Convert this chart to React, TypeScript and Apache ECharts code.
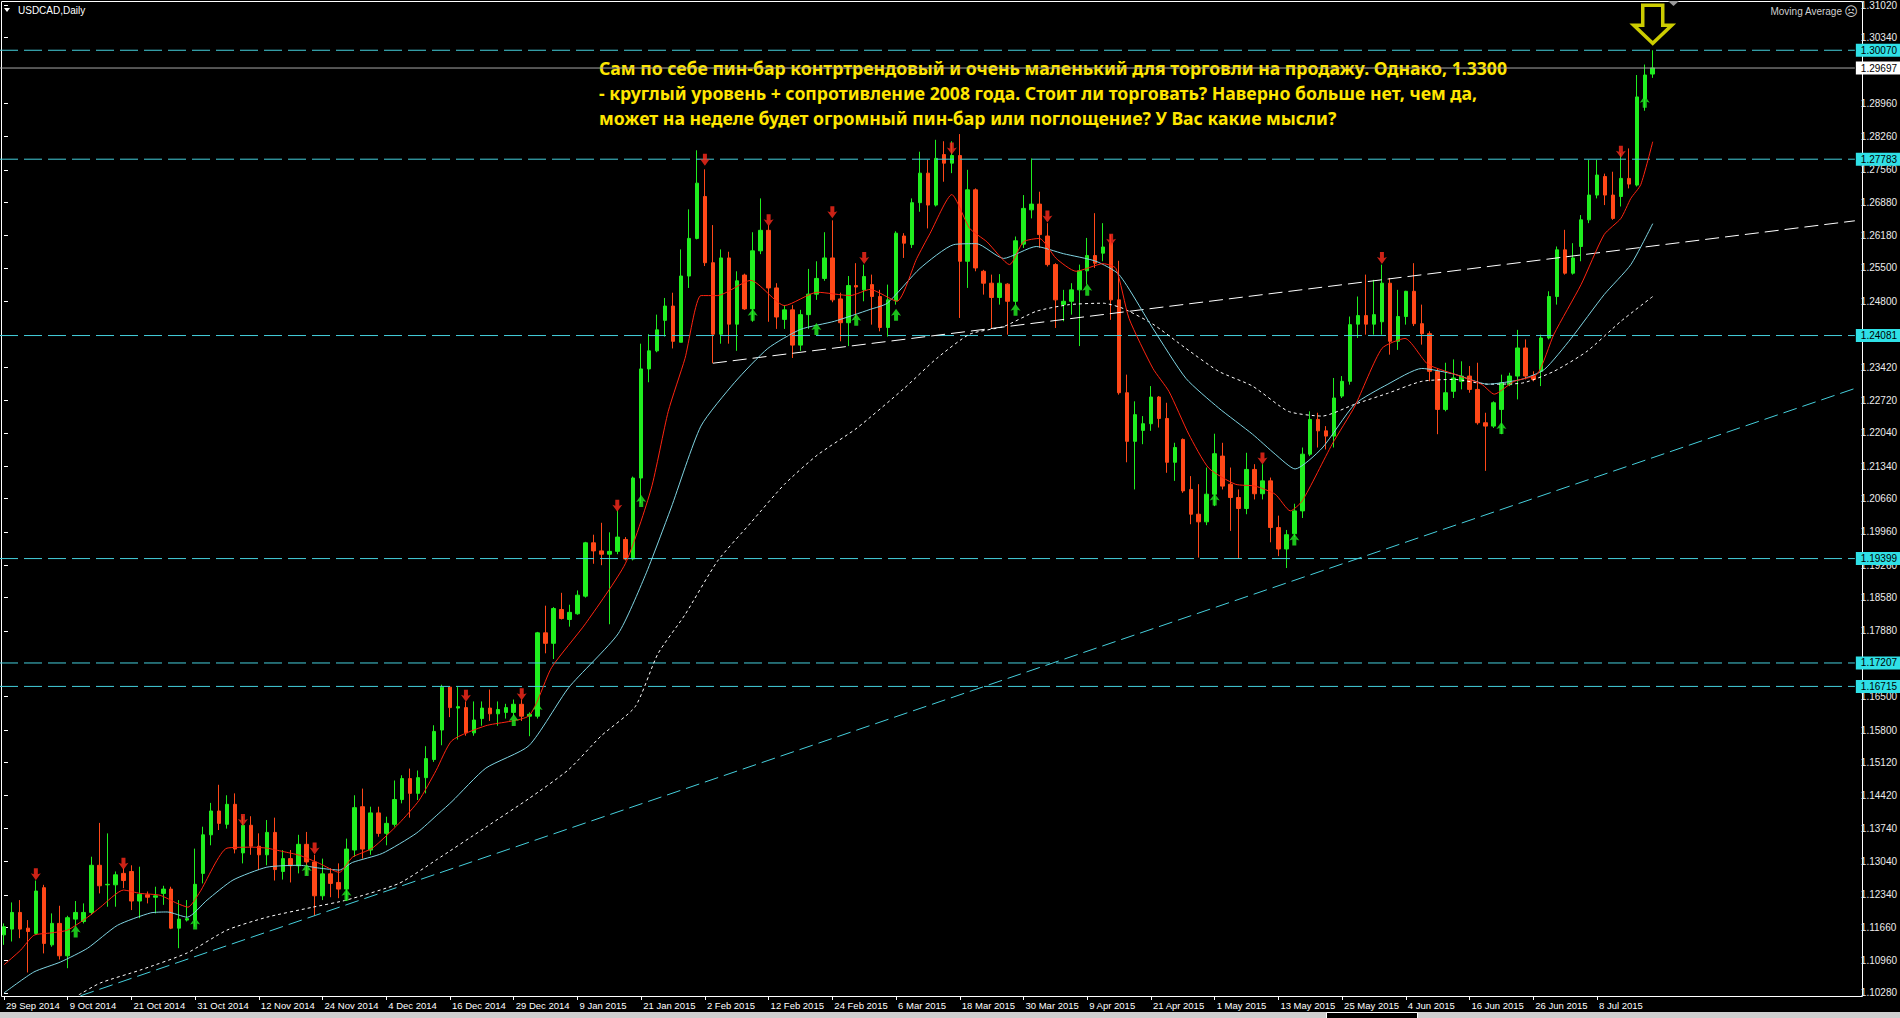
import React, { useEffect, useRef } from 'react';
import * as echarts from 'echarts';

const SYMBOL_TITLE = 'USDCAD,Daily';
const INDICATOR_TITLE = 'Moving Average';
const NOTE_LINES = [
  'Сам по себе пин-бар контртрендовый и очень маленький для торговли на продажу. Однако, 1.3300',
  '- круглый уровень + сопротивление 2008 года. Стоит ли торговать? Наверно больше нет, чем да,',
  'может на неделе будет огромный пин-бар или поглощение? У Вас какие мысли?',
];

const FIRST_DAY = '2014-09-29';
const HOLIDAYS = ['2014-12-25', '2015-01-01'];
const MONTHS = ['Jan', 'Feb', 'Mar', 'Apr', 'May', 'Jun', 'Jul', 'Aug', 'Sep', 'Oct', 'Nov', 'Dec'];

// [open, high, low, close]
const CANDLES_OCT_NOV = [
  [1.1150, 1.1174, 1.1129, 1.1167], [1.1162, 1.1218, 1.1136, 1.1197], [1.1197, 1.1223, 1.1143, 1.1162],
  [1.1164, 1.1181, 1.1071, 1.1157], [1.1153, 1.1264, 1.1150, 1.1242], [1.1249, 1.1255, 1.1111, 1.1132],
  [1.1129, 1.1195, 1.1125, 1.1174], [1.1174, 1.1211, 1.1098, 1.1106], [1.1106, 1.1190, 1.1080, 1.1186],
  [1.1183, 1.1221, 1.1167, 1.1197], [1.1178, 1.1216, 1.1174, 1.1197], [1.1197, 1.1314, 1.1192, 1.1296],
  [1.1296, 1.1385, 1.1237, 1.1253], [1.1255, 1.1363, 1.1209, 1.1256], [1.1255, 1.1283, 1.1209, 1.1276],
  [1.1279, 1.1290, 1.1248, 1.1264], [1.1283, 1.1296, 1.1202, 1.1221], [1.1221, 1.1293, 1.1185, 1.1235],
  [1.1234, 1.1241, 1.1216, 1.1229], [1.1229, 1.1251, 1.1195, 1.1232], [1.1237, 1.1253, 1.1213, 1.1246],
  [1.1246, 1.1251, 1.1162, 1.1164], [1.1164, 1.1223, 1.1122, 1.1183], [1.1181, 1.1223, 1.1178, 1.1184],
  [1.1181, 1.1331, 1.1167, 1.1256], [1.1279, 1.1377, 1.1258, 1.1360], [1.1360, 1.1427, 1.1338, 1.1410],
  [1.1410, 1.1465, 1.1370, 1.1384], [1.1382, 1.1443, 1.1373, 1.1424], [1.1424, 1.1447, 1.1321, 1.1330],
  [1.1322, 1.1399, 1.1300, 1.1380], [1.1380, 1.1399, 1.1318, 1.1336], [1.1336, 1.1363, 1.1286, 1.1318],
  [1.1318, 1.1391, 1.1296, 1.1365], [1.1365, 1.1396, 1.1264, 1.1287], [1.1283, 1.1328, 1.1266, 1.1310],
  [1.1310, 1.1328, 1.1260, 1.1295], [1.1295, 1.1360, 1.1279, 1.1340], [1.1340, 1.1366, 1.1276, 1.1303],
  [1.1303, 1.1318, 1.1190, 1.1232], [1.1232, 1.1310, 1.1223, 1.1278], [1.1278, 1.1290, 1.1229, 1.1258],
  [1.1260, 1.1300, 1.1227, 1.1246], [1.1246, 1.1352, 1.1221, 1.1330], [1.1328, 1.1443, 1.1314, 1.1417],
  [1.1419, 1.1457, 1.1310, 1.1330], [1.1328, 1.1419, 1.1318, 1.1406], [1.1406, 1.1419, 1.1356, 1.1363],
];
const CANDLES_DEC_JAN = [
  [1.1363, 1.1398, 1.1338, 1.1384], [1.1382, 1.1474, 1.1377, 1.1434], [1.1434, 1.1485, 1.1426, 1.1478],
  [1.1478, 1.1499, 1.1396, 1.1447], [1.1447, 1.1495, 1.1433, 1.1480], [1.1480, 1.1546, 1.1447, 1.1520],
  [1.1518, 1.1590, 1.1513, 1.1577], [1.1580, 1.1675, 1.1548, 1.1670], [1.1670, 1.1672, 1.1607, 1.1627],
  [1.1626, 1.1670, 1.1560, 1.1629], [1.1627, 1.1640, 1.1568, 1.1574], [1.1574, 1.1640, 1.1568, 1.1601],
  [1.1604, 1.1640, 1.1589, 1.1626], [1.1626, 1.1665, 1.1599, 1.1614], [1.1614, 1.1640, 1.1589, 1.1623],
  [1.1617, 1.1635, 1.1604, 1.1627], [1.1617, 1.1644, 1.1609, 1.1634], [1.1634, 1.1644, 1.1599, 1.1609],
  [1.1609, 1.1617, 1.1567, 1.1613], [1.1609, 1.1786, 1.1604, 1.1784], [1.1784, 1.1841, 1.1741, 1.1762],
  [1.1762, 1.1838, 1.1729, 1.1835], [1.1833, 1.1868, 1.1812, 1.1814], [1.1812, 1.1843, 1.1797, 1.1827],
  [1.1824, 1.1873, 1.1822, 1.1863], [1.1861, 1.1975, 1.1858, 1.1973], [1.1973, 1.1990, 1.1929, 1.1956],
  [1.1956, 1.2015, 1.1926, 1.1949], [1.1949, 1.1995, 1.1802, 1.1955], [1.1955, 1.2041, 1.1949, 1.1985],
  [1.1980, 1.1985, 1.1936, 1.1939], [1.1939, 1.2112, 1.1936, 1.2109], [1.2109, 1.2391, 1.2056, 1.2338],
  [1.2338, 1.2411, 1.2310, 1.2376], [1.2376, 1.2452, 1.2373, 1.2420], [1.2440, 1.2487, 1.2406, 1.2470],
  [1.2470, 1.2498, 1.2381, 1.2396], [1.2394, 1.2589, 1.2394, 1.2533], [1.2533, 1.2673, 1.2508, 1.2612],
  [1.2612, 1.2797, 1.2610, 1.2728],
];
const CANDLES_FEB_MAR = [
  [1.2700, 1.2757, 1.2554, 1.2561], [1.2561, 1.2640, 1.2350, 1.2411], [1.2411, 1.2589, 1.2391, 1.2571],
  [1.2571, 1.2584, 1.2391, 1.2432], [1.2432, 1.2543, 1.2376, 1.2523], [1.2535, 1.2538, 1.2462, 1.2464],
  [1.2464, 1.2625, 1.2437, 1.2586], [1.2586, 1.2696, 1.2579, 1.2629], [1.2629, 1.2640, 1.2437, 1.2508],
  [1.2508, 1.2518, 1.2422, 1.2447], [1.2442, 1.2472, 1.2422, 1.2462], [1.2462, 1.2472, 1.2361, 1.2388],
  [1.2388, 1.2462, 1.2376, 1.2452], [1.2452, 1.2548, 1.2422, 1.2495], [1.2495, 1.2564, 1.2483, 1.2528],
  [1.2528, 1.2625, 1.2523, 1.2571], [1.2571, 1.2650, 1.2478, 1.2483], [1.2485, 1.2498, 1.2396, 1.2435],
  [1.2435, 1.2533, 1.2386, 1.2513], [1.2513, 1.2560, 1.2445, 1.2510], [1.2504, 1.2557, 1.2480, 1.2532],
  [1.2515, 1.2536, 1.2431, 1.2490], [1.2490, 1.2504, 1.2417, 1.2425], [1.2425, 1.2515, 1.2406, 1.2483],
  [1.2481, 1.2627, 1.2473, 1.2623], [1.2617, 1.2623, 1.2571, 1.2602], [1.2599, 1.2696, 1.2592, 1.2687],
  [1.2687, 1.2794, 1.2668, 1.2749], [1.2749, 1.2777, 1.2633, 1.2682], [1.2682, 1.2819, 1.2679, 1.2780],
  [1.2788, 1.2816, 1.2731, 1.2770], [1.2770, 1.2816, 1.2749, 1.2786], [1.2786, 1.2831, 1.2445, 1.2564],
  [1.2564, 1.2756, 1.2508, 1.2714], [1.2714, 1.2717, 1.2543, 1.2550], [1.2543, 1.2546, 1.2494, 1.2518],
  [1.2518, 1.2536, 1.2424, 1.2488], [1.2488, 1.2537, 1.2473, 1.2518], [1.2516, 1.2518, 1.2410, 1.2480],
  [1.2480, 1.2616, 1.2473, 1.2607],
];
const CANDLES_APR_MAY = [
  [1.2600, 1.2703, 1.2592, 1.2675], [1.2672, 1.2780, 1.2654, 1.2684], [1.2684, 1.2710, 1.2592, 1.2620],
  [1.2617, 1.2644, 1.2553, 1.2557], [1.2557, 1.2560, 1.2424, 1.2483], [1.2473, 1.2504, 1.2438, 1.2480],
  [1.2480, 1.2518, 1.2452, 1.2504], [1.2504, 1.2557, 1.2386, 1.2544], [1.2544, 1.2613, 1.2515, 1.2576],
  [1.2576, 1.2665, 1.2550, 1.2560], [1.2581, 1.2644, 1.2564, 1.2594], [1.2602, 1.2620, 1.2441, 1.2483],
  [1.2483, 1.2565, 1.2284, 1.2288], [1.2288, 1.2326, 1.2142, 1.2186], [1.2186, 1.2270, 1.2085, 1.2242],
  [1.2209, 1.2239, 1.2180, 1.2223], [1.2223, 1.2302, 1.2208, 1.2279], [1.2279, 1.2281, 1.2215, 1.2234],
  [1.2234, 1.2267, 1.2120, 1.2142], [1.2142, 1.2183, 1.2103, 1.2173], [1.2190, 1.2192, 1.2078, 1.2082],
  [1.2085, 1.2113, 1.2012, 1.2033], [1.2033, 1.2096, 1.1942, 1.2017], [1.2017, 1.2131, 1.2010, 1.2075],
  [1.2075, 1.2202, 1.2050, 1.2160], [1.2155, 1.2183, 1.2085, 1.2092], [1.2096, 1.2131, 1.1998, 1.2068],
  [1.2068, 1.2085, 1.1939, 1.2045], [1.2045, 1.2162, 1.2033, 1.2127], [1.2127, 1.2138, 1.2064, 1.2076],
  [1.2076, 1.2138, 1.2064, 1.2103], [1.2103, 1.2110, 1.1974, 1.2005], [1.2005, 1.2030, 1.1945, 1.1960],
  [1.1960, 1.2000, 1.1920, 1.1990], [1.1992, 1.2055, 1.1985, 1.2040], [1.2040, 1.2173, 1.2025, 1.2159],
  [1.2159, 1.2249, 1.2155, 1.2232], [1.2232, 1.2246, 1.2173, 1.2208], [1.2208, 1.2218, 1.2169, 1.2197],
  [1.2197, 1.2319, 1.2173, 1.2277], [1.2281, 1.2323, 1.2277, 1.2312], [1.2312, 1.2448, 1.2305, 1.2431],
  [1.2432, 1.2490, 1.2403, 1.2450],
];
const CANDLES_JUN_JUL = [
  [1.2450, 1.2536, 1.2410, 1.2432], [1.2432, 1.2525, 1.2410, 1.2452], [1.2437, 1.2557, 1.2410, 1.2518],
  [1.2518, 1.2529, 1.2368, 1.2396], [1.2396, 1.2504, 1.2378, 1.2448], [1.2448, 1.2502, 1.2431, 1.2501],
  [1.2501, 1.2560, 1.2428, 1.2433], [1.2433, 1.2473, 1.2389, 1.2412], [1.2412, 1.2417, 1.2312, 1.2333],
  [1.2333, 1.2340, 1.2201, 1.2253], [1.2253, 1.2351, 1.2249, 1.2288], [1.2291, 1.2358, 1.2277, 1.2319],
  [1.2312, 1.2354, 1.2295, 1.2323], [1.2323, 1.2344, 1.2288, 1.2295], [1.2295, 1.2351, 1.2221, 1.2225],
  [1.2225, 1.2246, 1.2124, 1.2218], [1.2218, 1.2270, 1.2214, 1.2267], [1.2253, 1.2326, 1.2201, 1.2309],
  [1.2305, 1.2330, 1.2302, 1.2323], [1.2323, 1.2420, 1.2274, 1.2382], [1.2382, 1.2400, 1.2316, 1.2323],
  [1.2323, 1.2333, 1.2312, 1.2316], [1.2333, 1.2410, 1.2302, 1.2403], [1.2403, 1.2501, 1.2400, 1.2490],
  [1.2490, 1.2595, 1.2473, 1.2588], [1.2588, 1.2630, 1.2536, 1.2539], [1.2539, 1.2602, 1.2536, 1.2571],
  [1.2595, 1.2661, 1.2564, 1.2651], [1.2651, 1.2777, 1.2644, 1.2703], [1.2703, 1.2777, 1.2696, 1.2745],
  [1.2742, 1.2748, 1.2682, 1.2703], [1.2703, 1.2752, 1.2651, 1.2654], [1.2700, 1.2791, 1.2679, 1.2738],
  [1.2738, 1.2801, 1.2717, 1.2726], [1.2724, 1.2955, 1.2721, 1.2909], [1.2905, 1.2977, 1.2880, 1.2955],
  [1.2957, 1.3007, 1.2949, 1.29697],
];

// Moving averages: [bar index, price]
const MA_FAST = [
  [0, 1.1087], [2.1, 1.1118], [3.75, 1.1149], [5.9, 1.1154], [8, 1.1160], [10.5, 1.1187], [12.1, 1.1208],
  [15, 1.1244], [17.1, 1.1237], [19.6, 1.1233], [21.75, 1.1216], [23.1, 1.1208], [24.6, 1.1240], [28, 1.1332],
  [31.25, 1.1334], [33, 1.1332], [35, 1.1325], [37.1, 1.1317], [39.6, 1.1300], [42.1, 1.1281], [43.75, 1.1313],
  [46.25, 1.1332], [49.6, 1.1384], [52.1, 1.1432], [54.25, 1.1495], [56.25, 1.1558], [60.5, 1.1589],
  [65.9, 1.1610], [68.75, 1.1711], [73, 1.1803], [78, 1.1929], [81.25, 1.2086], [83.4, 1.2249], [85.5, 1.2360],
  [87.5, 1.2492], [89.6, 1.2492], [93.75, 1.2524], [98, 1.2471], [102.1, 1.2499], [106.25, 1.2492],
  [108.75, 1.2505], [112.1, 1.2480], [114.6, 1.2570], [116.25, 1.2622], [119, 1.2704], [121.25, 1.2633],
  [123.4, 1.2605], [126.25, 1.2557], [128, 1.2605], [130, 1.2612], [132.1, 1.2570], [134.6, 1.2543],
  [138, 1.2559], [139.6, 1.2549], [141.25, 1.2444], [144.25, 1.2339], [146.25, 1.2291], [148.75, 1.2201],
  [151.25, 1.2130], [154.6, 1.2096], [157.1, 1.2092], [159.6, 1.2075], [161.5, 1.2040], [163, 1.2061],
  [166.75, 1.2180], [169.6, 1.2260], [173, 1.2381], [175.9, 1.2402], [178.75, 1.2348], [182.1, 1.2327],
  [185.5, 1.2306], [187.1, 1.2285], [189.6, 1.2312], [192.5, 1.2327], [194.6, 1.2411], [198, 1.2515],
  [200.9, 1.2620], [203, 1.2654], [204.25, 1.2696], [205.5, 1.2725], [207, 1.2815],
];
const MA_MID = [
  [0, 1.1028], [3.75, 1.1072], [7.1, 1.1093], [10.5, 1.1122], [14.25, 1.1170], [18.4, 1.1196], [20.5, 1.1198],
  [23, 1.1187], [25.5, 1.1223], [28.75, 1.1265], [33, 1.1292], [37.1, 1.1296], [39.6, 1.1290], [42.1, 1.1286],
  [43.75, 1.1302], [47.5, 1.1321], [51.75, 1.1363], [54.6, 1.1405], [56.25, 1.1430], [60.5, 1.1500],
  [65.9, 1.1547], [70.9, 1.1669], [77.1, 1.1782], [80.5, 1.1904], [83.75, 1.2046], [87.5, 1.2218],
  [91.75, 1.2310], [95.9, 1.2381], [100, 1.2421], [104.25, 1.2438], [108.75, 1.2463], [110.9, 1.2476],
  [115, 1.2549], [119.25, 1.2599], [122.1, 1.2601], [125.5, 1.2570], [129.6, 1.2595], [133, 1.2580],
  [137.1, 1.2564], [140, 1.2536], [144.25, 1.2423], [148.4, 1.2318], [152.5, 1.2256], [156.75, 1.2201],
  [159.6, 1.2159], [162.1, 1.2128], [165.5, 1.2172], [169.6, 1.2264], [173.75, 1.2306], [178, 1.2339],
  [182.1, 1.2327], [186.25, 1.2306], [190.5, 1.2316], [193.4, 1.2337], [196.75, 1.2402], [200.9, 1.2494],
  [204.25, 1.2557], [207, 1.2643],
];
const MA_SLOW = [
  [9.4, 1.1024], [12.1, 1.1049], [17.1, 1.1076], [23, 1.1112], [28, 1.1160], [33, 1.1187], [38.75, 1.1208],
  [43, 1.1223], [49.6, 1.1258], [54.25, 1.1307], [60.5, 1.1376], [65.9, 1.1436], [70.9, 1.1497], [75, 1.1568],
  [79.25, 1.1629], [82.1, 1.1740], [85.5, 1.1822], [89.6, 1.1935], [93.75, 1.2015], [98, 1.2096],
  [102.1, 1.2157], [107.1, 1.2214], [113, 1.2297], [117.1, 1.2360], [121.25, 1.2411], [125.5, 1.2427],
  [129.6, 1.2459], [133.75, 1.2473], [138, 1.2476], [140.5, 1.2465], [144.25, 1.2432], [148.4, 1.2381],
  [152.5, 1.2333], [156.75, 1.2302], [161.25, 1.2249], [165.5, 1.2239], [169.6, 1.2264], [173.75, 1.2287],
  [178, 1.2312], [182.1, 1.2316], [186.25, 1.2306], [190.5, 1.2308], [194.6, 1.2333], [198.75, 1.2375],
  [203, 1.2438], [207, 1.2490],
];

const LEVELS = [1.30070, 1.27783, 1.24081, 1.19399, 1.17207, 1.16715];
const BID = 1.29697;
const TREND_WHITE = [[89, 1.2350], [232.375, 1.2649]];
const TREND_CYAN = [[9.6, 1.1022], [232.375, 1.2297]];

const PIN_DOWN = [
  [4, 1.1277], [15, 1.1299], [30, 1.1391], [39, 1.1331], [58, 1.1652], [65, 1.1655], [77, 1.2051], [88, 1.2777],
  [96, 1.2650], [104, 1.2667], [108, 1.2571], [119, 1.2801], [131, 1.2658], [139, 1.2609], [158, 1.2150],
  [173, 1.2571], [203, 1.2794],
];
const PIN_UP = [
  [9, 1.1157], [24, 1.1174], [38, 1.1286], [43, 1.1234], [64, 1.1601], [67, 1.1624], [80, 1.2061], [94, 1.2452],
  [102, 1.2422], [107, 1.2441], [112, 1.2452], [127, 1.2462], [136, 1.2504], [152, 1.2064], [162, 1.1980],
  [188, 1.2214], [206, 1.2899],
];
const SIGNAL_BAR = [[207, 1.30070]];

const PRICE_TICKS = [
  1.10280, 1.10960, 1.11660, 1.12340, 1.13040, 1.13740, 1.14420, 1.15120, 1.15800, 1.16500, 1.17880,
  1.18580, 1.19260, 1.19960, 1.20660, 1.21340, 1.22040, 1.22720, 1.23420, 1.24800, 1.25500, 1.26180,
  1.26880, 1.27560, 1.28260, 1.28960, 1.30340, 1.31020,
];
const DATE_TICKS = [0, 8, 16, 24, 32, 40, 48, 56, 64, 72, 80, 88, 96, 104, 112, 120, 128, 136, 144, 152, 160, 168, 176, 184, 192, 200];

const X_MIN = -0.5;
const X_MAX = 232.375;
const Y_MIN = 1.10216;
const Y_MAX = 1.31041;

const BULL = '#1fee1f';
const BEAR = '#ff4818';
const CYAN_LINE = '#45cfdc';
const CYAN_BOX = '#2fe0e6';
const AXIS_FONT = "'Liberation Sans', Arial, sans-serif";
const NOTE_FONT = "'Noto Sans', 'DejaVu Sans', sans-serif";

const ARROW_DOWN = 'path://M3,0L7,0L7,6L10,5L5,12L0,5L3,6Z';
const ARROW_UP = 'path://M5,0L10,7L7,6L7,12L3,12L3,6L0,7Z';
const BIG_ARROW = 'path://M9,0L29,0L29,20L38,20L19,38L0,20L9,20Z';

function buildDates(n: number): string[] {
  const out: string[] = [];
  const d = new Date(FIRST_DAY + 'T00:00:00Z');
  while (out.length < n) {
    const dow = d.getUTCDay();
    const iso = d.toISOString().slice(0, 10);
    if (dow !== 0 && dow !== 6 && !HOLIDAYS.includes(iso)) {
      out.push(d.getUTCDate() + ' ' + MONTHS[d.getUTCMonth()] + ' ' + d.getUTCFullYear());
    }
    d.setUTCDate(d.getUTCDate() + 1);
  }
  return out;
}

function levelSeries(value: number, lineColor: string, boxColor: string, dashed: boolean) {
  return {
    type: 'line',
    data: [[X_MIN, value], [X_MAX, value]],
    showSymbol: false,
    silent: true,
    clip: false,
    lineStyle: { color: lineColor, width: 1, type: dashed ? [18, 6] : 'solid' },
    z: 3,
    endLabel: {
      show: true,
      formatter: () => value.toFixed(5),
      distance: 1,
      backgroundColor: boxColor,
      color: '#000',
      fontSize: 10,
      fontFamily: AXIS_FONT,
      lineHeight: 12,
      padding: [1, 3, 0, 5],
    },
  };
}

export default function App() {
  const ref = useRef<HTMLDivElement>(null);
  useEffect(() => {
    const el = ref.current;
    if (!el) return;
    const chart = echarts.init(el, undefined, { renderer: 'svg' });

    const candles = [...CANDLES_OCT_NOV, ...CANDLES_DEC_JAN, ...CANDLES_FEB_MAR, ...CANDLES_APR_MAY, ...CANDLES_JUN_JUL];
    const dates = buildDates(candles.length);
    const ohlc = candles.map((c, i) => [i, c[0], c[3], c[2], c[1]]);

    // fit annotation text to its width in the reference
    let noteSize = 17;
    try {
      const ctx = document.createElement('canvas').getContext('2d');
      if (ctx) {
        ctx.font = "bold 20px 'Noto Sans'";
        const w = ctx.measureText(NOTE_LINES[0]).width;
        if (w > 0) noteSize = (20 * 909) / w;
      }
    } catch (e) {}

    const noteGraphics = NOTE_LINES.map((t, k) => ({
      type: 'text',
      x: 599,
      y: 68 + k * 25,
      z: 1,
      style: {
        text: t,
        fill: '#ffe600',
        font: 'bold ' + noteSize.toFixed(2) + 'px ' + NOTE_FONT,
        verticalAlign: 'middle',
        align: 'left',
      },
    }));

    const levels = [
      levelSeries(BID, '#a6a6a6', '#ffffff', false),
      ...LEVELS.map((v) => levelSeries(v, CYAN_LINE, CYAN_BOX, true)),
    ];

    chart.setOption({
      animation: false,
      backgroundColor: '#000',
      grid: { left: -1, right: 38, top: 2, bottom: 22, containLabel: false },
      xAxis: {
        type: 'value',
        min: X_MIN,
        max: X_MAX,
        axisLine: { show: false },
        splitLine: { show: false },
        axisTick: { show: true, customValues: DATE_TICKS, length: 4, lineStyle: { color: '#ffffff' } },
        axisLabel: {
          customValues: DATE_TICKS,
          formatter: (v: number) => dates[Math.round(v)] || '',
          color: '#ffffff',
          fontSize: 9.5,
          fontFamily: AXIS_FONT,
          align: 'left',
          margin: 4,
          padding: [0, 0, 0, 2],
        },
      },
      yAxis: {
        type: 'value',
        position: 'right',
        min: Y_MIN,
        max: Y_MAX,
        axisLine: { show: false },
        splitLine: { show: false },
        axisTick: { show: true, customValues: PRICE_TICKS, length: 4, lineStyle: { color: '#ffffff' } },
        axisLabel: {
          customValues: PRICE_TICKS,
          formatter: (v: number) => v.toFixed(5),
          color: '#ececec',
          fontSize: 10,
          fontFamily: AXIS_FONT,
          margin: 6,
        },
      },
      graphic: [
        {
          type: 'rect',
          z: 0,
          shape: { x: 1.5, y: 1.5, width: 1861, height: 995 },
          style: { fill: 'none', stroke: '#ffffff', lineWidth: 1 },
          silent: true,
        },
        { type: 'polygon', shape: { points: [[4, 8], [10, 8], [7, 12]] }, style: { fill: '#ffffff' } },
        {
          type: 'text', x: 18, y: 10,
          style: { text: SYMBOL_TITLE, fill: '#ffffff', font: '10px ' + AXIS_FONT, verticalAlign: 'middle' },
        },
        {
          type: 'text', x: 1842, y: 11,
          style: { text: INDICATOR_TITLE, fill: '#cfcfcf', font: '10px ' + AXIS_FONT, verticalAlign: 'middle', align: 'right' },
        },
        {
          type: 'text', x: 1851, y: 11,
          style: { text: '☹', fill: '#cfcfcf', font: "13px 'DejaVu Sans'", verticalAlign: 'middle', align: 'center' },
        },
        { type: 'polygon', shape: { points: [[1668, 1], [1679, 1], [1673.5, 6]] }, style: { fill: '#9a9a9a' } },
        { type: 'rect', shape: { x: 0, y: 1012, width: 1900, height: 6 }, style: { fill: '#cfcfcf' } },
        { type: 'rect', shape: { x: 1326.5, y: 1012.5, width: 91, height: 6 }, style: { fill: '#000', stroke: '#ffffff' } },
        ...noteGraphics,
      ],
      series: [
        {
          type: 'candlestick',
          data: ohlc,
          encode: { x: 0, y: [1, 2, 3, 4] },
          barWidth: 4,
          itemStyle: {
            color: BULL,
            color0: BEAR,
            borderColor: BULL,
            borderColor0: BEAR,
            borderColorDoji: BULL,
            borderWidth: 1,
          },
          z: 2,
        },
        ...levels,
        {
          type: 'line',
          data: TREND_WHITE,
          showSymbol: false,
          silent: true,
          lineStyle: { color: '#ffffff', width: 1, type: [14, 6] },
          z: 3,
        },
        {
          type: 'line',
          data: TREND_CYAN,
          showSymbol: false,
          silent: true,
          lineStyle: { color: CYAN_LINE, width: 1, type: [14, 6] },
          z: 3,
        },
        {
          type: 'line',
          data: MA_SLOW,
          showSymbol: false,
          silent: true,
          smooth: 0.2,
          lineStyle: { color: '#ffffff', width: 1, type: [3, 3] },
          z: 4,
        },
        {
          type: 'line',
          data: MA_MID,
          showSymbol: false,
          silent: true,
          smooth: 0.2,
          lineStyle: { color: '#7fd4e2', width: 1 },
          z: 4,
        },
        {
          type: 'line',
          data: MA_FAST,
          showSymbol: false,
          silent: true,
          smooth: 0.2,
          lineStyle: { color: '#ff2410', width: 1 },
          z: 4,
        },
        {
          type: 'scatter',
          data: PIN_DOWN,
          symbol: ARROW_DOWN,
          symbolSize: [10, 12],
          silent: true,
          itemStyle: { color: '#ff2a1c' },
          z: 5,
        },
        {
          type: 'scatter',
          data: PIN_UP,
          symbol: ARROW_UP,
          symbolSize: [10, 12],
          silent: true,
          itemStyle: { color: '#22f022' },
          z: 5,
        },
        {
          type: 'scatter',
          data: SIGNAL_BAR,
          symbol: BIG_ARROW,
          symbolSize: [38, 38],
          symbolOffset: [0, -26],
          silent: true,
          itemStyle: { color: 'rgba(0,0,0,0)', borderColor: '#ffff00', borderWidth: 3.5 },
          z: 6,
        },
      ],
    });

    return () => chart.dispose();
  }, []);

  return (
    <div
      ref={ref}
      style={{ position: 'fixed', left: 0, top: 0, width: 1900, height: 1018, background: '#000' }}
    />
  );
}
